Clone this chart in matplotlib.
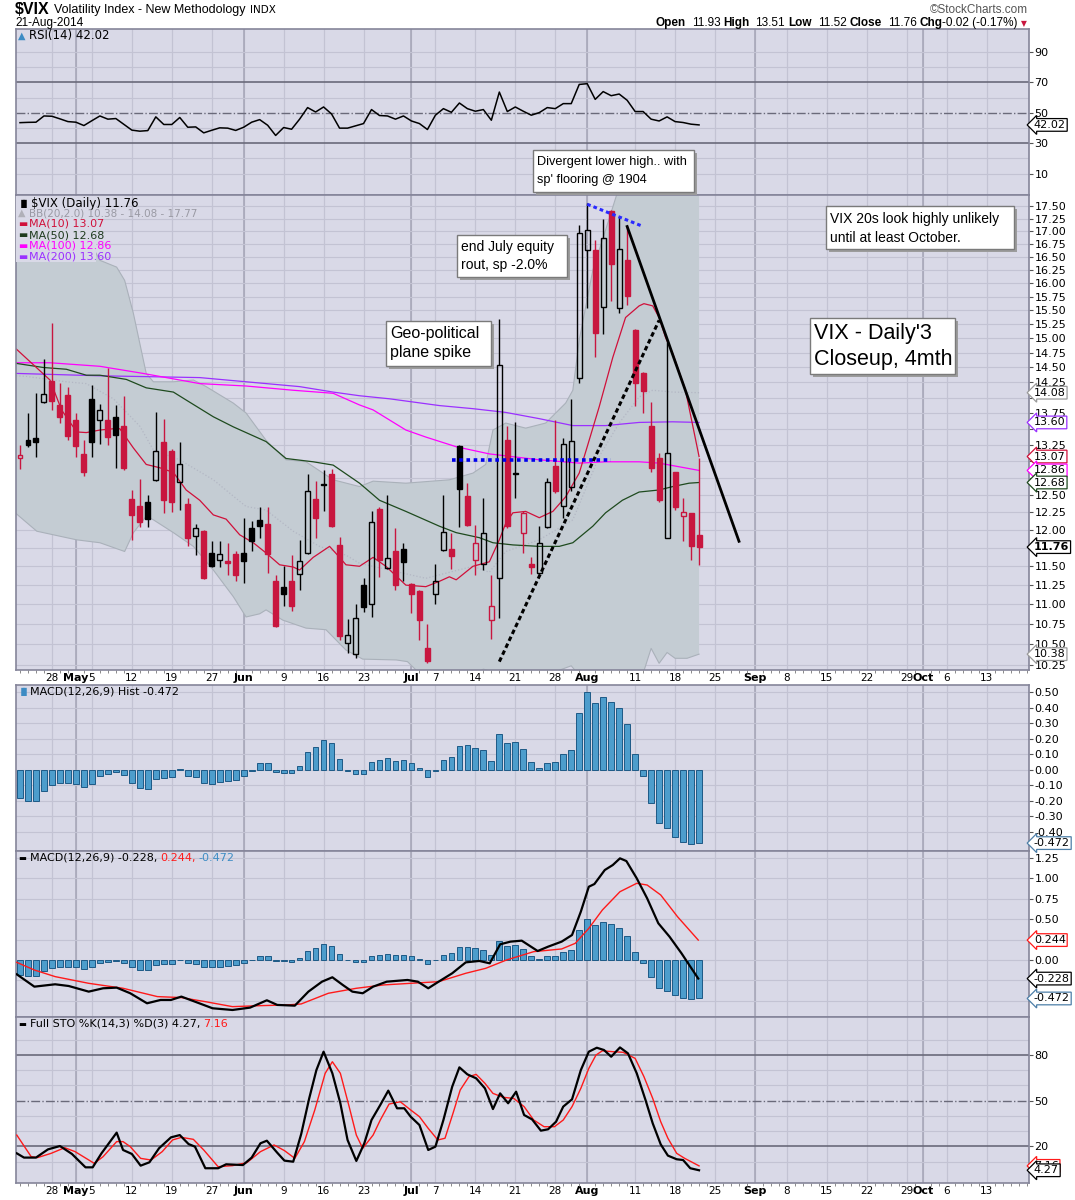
import matplotlib
matplotlib.use('Agg')
import matplotlib.pyplot as plt
from matplotlib.patches import Rectangle
from matplotlib.ticker import FixedLocator, NullLocator, FixedFormatter
import numpy as np
import pandas as pd

plt.rcParams['font.family'] = ['DejaVu Sans']

# dias de mercado que ocupa el eje (sin festivos)
dias = pd.bdate_range('2014-04-22', '2014-10-24')
dias = dias[~dias.isin(pd.to_datetime(['2014-05-26', '2014-07-04', '2014-09-01']))]

# velas diarias $VIX, 22-abr a 21-ago-2014
apertura = [13.05, 13.33, 13.35, 13.92, 14.27, 13.88, 14.05, 13.64, 13.11, 13.98,
            13.64, 13.64, 13.69, 13.54, 12.44, 12.34, 12.40, 12.71, 13.30, 13.15,
            12.69, 12.36, 11.92, 11.98, 11.68, 11.58, 11.57, 11.66, 11.68, 12.02,
            12.14, 12.08, 11.31, 11.23, 11.30, 11.40, 11.68, 12.44, 12.66, 12.81,
            11.79, 10.51, 10.38, 11.25, 11.00, 12.29, 11.48, 11.71, 11.74, 11.27,
            11.17, 10.45, 11.14, 11.72, 11.74, 13.23, 12.48, 11.58, 11.53, 10.80,
            11.35, 13.33, 12.82, 11.96, 11.53, 11.41, 12.04, 12.93, 12.34, 12.62,
            14.33, 16.63, 16.63, 15.56, 17.40, 15.54, 16.43, 15.14, 14.41, 13.55,
            13.05, 11.89, 12.83, 12.20, 12.23, 11.93]
maximo = [13.24, 13.75, 14.07, 14.65, 15.27, 14.24, 14.18, 13.75, 13.32, 14.21,
          13.90, 14.49, 13.88, 14.03, 12.57, 12.73, 12.49, 13.76, 13.65, 13.18,
          13.29, 12.45, 12.08, 11.99, 11.84, 11.84, 11.82, 11.71, 12.17, 12.13,
          12.32, 12.33, 11.39, 11.50, 11.65, 11.86, 12.81, 12.70, 12.87, 12.88,
          11.90, 10.81, 11.01, 11.35, 12.27, 12.33, 12.50, 12.02, 11.82, 11.28,
          11.18, 10.75, 11.53, 12.50, 11.96, 13.24, 12.68, 12.07, 12.46, 11.38,
          15.35, 13.54, 13.61, 12.26, 11.63, 12.05, 12.75, 13.64, 13.35, 13.98,
          17.12, 17.57, 16.83, 17.25, 17.42, 17.28, 17.10, 15.16, 14.42, 13.93,
          13.12, 14.93, 12.84, 12.45, 12.24, 13.05]
minimo = [12.88, 13.22, 13.07, 13.91, 13.80, 13.59, 13.32, 13.06, 12.77, 13.07,
          13.27, 13.25, 12.90, 12.86, 11.86, 12.04, 12.04, 12.70, 12.24, 12.25,
          12.28, 11.78, 11.65, 11.33, 11.49, 11.49, 11.39, 11.30, 11.28, 11.71,
          11.89, 11.41, 10.71, 10.98, 10.92, 11.18, 11.66, 11.88, 12.27, 12.04,
          10.55, 10.39, 10.33, 10.90, 10.84, 11.36, 11.47, 11.18, 11.30, 10.89,
          10.55, 10.27, 11.00, 11.71, 11.47, 12.04, 12.06, 11.38, 11.45, 10.57,
          10.83, 12.03, 12.45, 11.68, 11.40, 11.40, 12.03, 12.53, 12.17, 12.55,
          14.24, 15.54, 14.67, 15.07, 15.67, 15.45, 15.60, 13.86, 13.75, 12.83,
          12.40, 11.88, 12.28, 11.84, 11.58, 11.52]
cierre = [13.10, 13.24, 13.29, 14.06, 13.95, 13.69, 13.39, 13.23, 12.84, 13.29,
          13.80, 13.37, 13.40, 12.90, 12.21, 12.11, 12.15, 13.16, 12.42, 12.40,
          12.96, 11.89, 12.02, 11.34, 11.50, 11.66, 11.55, 11.38, 11.57, 11.85,
          12.06, 11.66, 10.73, 11.14, 10.98, 11.57, 12.55, 12.16, 12.64, 12.05,
          10.60, 10.62, 10.83, 10.97, 12.11, 11.58, 11.61, 11.25, 11.56, 11.14,
          10.80, 10.30, 11.31, 11.97, 11.64, 12.58, 12.07, 11.82, 11.96, 10.98,
          14.54, 12.06, 12.80, 12.23, 11.49, 11.82, 12.69, 12.55, 13.27, 13.31,
          16.96, 17.03, 15.10, 16.86, 16.35, 16.65, 15.76, 14.24, 14.10, 12.89,
          12.42, 13.12, 12.33, 12.25, 11.78, 11.76]
cierre_previo = 13.25

# medias moviles y bandas (dia, valor)
ma10_x = [-0.5, 3.75, 5.2, 7.1, 8.3, 10, 11.7, 12.5, 14.2, 15.8, 17.5, 19.2, 20.8, 22.5,
          24.2, 25.8, 27.5, 29.2, 30.8, 32.5, 34.2, 35, 36.7, 38.75, 40, 40.8, 42.5,
          44.2, 45.8, 48.3, 50.8, 52.5, 53.75, 54.6, 56.7, 58.75, 60, 60.8, 61.7, 63.3,
          65, 66.7, 68.3, 70, 71, 72.5, 74.2, 75.8, 77.5, 78.1, 79.2, 80, 80.8, 81.7,
          83.3, 85]
ma10_y = [14.82, 14.29, 13.80, 13.45, 13.44, 13.48, 13.50, 13.50, 13.20, 12.95, 12.90,
          12.83, 12.57, 12.42, 12.21, 12.15, 11.93, 11.82, 11.68, 11.52, 11.49, 11.45,
          11.62, 11.77, 11.62, 11.52, 11.50, 11.62, 11.50, 11.25, 11.23, 11.30, 11.36,
          11.32, 11.50, 11.56, 11.86, 12.09, 12.24, 12.26, 12.17, 12.26, 12.47, 12.82,
          13.22, 13.85, 14.67, 15.37, 15.58, 15.62, 15.58, 15.37, 15.02, 14.74, 14.12,
          13.07]
ma50_x = [-0.5, 2.9, 5.8, 8.3, 10, 13.3, 15.8, 19.2, 20.8, 24.2, 26.7, 30.8, 33.3, 36.7,
          39.2, 42.5, 45, 48.3, 52.5, 54.6, 57.5, 59.2, 61.7, 65, 67.5, 69.2, 71.7, 73.3,
          75.4, 77.5, 80, 81.7, 83.75, 85]
ma50_y = [14.57, 14.50, 14.47, 14.37, 14.37, 14.30, 14.16, 14.09, 13.96, 13.69, 13.53,
          13.30, 13.04, 12.99, 12.94, 12.67, 12.42, 12.26, 12.05, 11.96, 11.89, 11.82,
          11.79, 11.77, 11.77, 11.82, 12.05, 12.24, 12.42, 12.54, 12.57, 12.62, 12.67,
          12.68]
ma100_x = [-0.5, 3.75, 10, 15.4, 22.5, 28.3, 34.2, 39.2, 42.5, 44.2, 48.3, 50.8, 54.6,
           58.75, 65, 70, 73.3, 77.5, 80, 85]
ma100_y = [14.58, 14.58, 14.52, 14.40, 14.23, 14.19, 14.12, 14.07, 13.88, 13.80, 13.48,
           13.37, 13.22, 13.11, 13.02, 12.97, 12.99, 12.99, 12.97, 12.86]
ma200_x = [-0.5, 10, 22.5, 35, 39.2, 42.5, 46.25, 52.5, 56.7, 60.8, 65, 69.2, 73.3, 77.5,
           81.7, 85]
ma200_y = [14.40, 14.36, 14.33, 14.18, 14.09, 14.03, 13.98, 13.87, 13.82, 13.76, 13.66,
           13.55, 13.55, 13.60, 13.61, 13.60]
bb_sup_x = [-0.5, 9.4, 10, 12.1, 13.1, 14.2, 15.8, 16.7, 19.2, 21.7, 23.3, 26.7, 28.3,
            30.8, 33.3, 35.8, 39.2, 42.5, 44.2, 48.3, 53.75, 56.7, 58.3, 59.2, 60.8, 63.3,
            65.8, 68.3, 69.2, 70, 71.7, 73.3, 75, 78, 82, 85]
bb_sup_y = [16.5, 16.6, 16.43, 16.30, 16.05, 15.44, 14.40, 14.26, 14.26, 14.29, 14.18,
            13.91, 13.75, 13.32, 13.02, 12.99, 12.72, 12.62, 12.70, 12.67, 12.72, 12.82,
            12.95, 13.48, 13.59, 13.51, 13.59, 13.91, 14.12, 14.97, 16.24, 17.02, 17.9,
            18.3, 18.2, 17.77]
bb_inf_x = [-0.5, 2.1, 5, 7.1, 10, 13.1, 14.2, 15.8, 16.7, 19.2, 21.7, 24.2, 26.7, 28.3,
            30, 30.8, 32.9, 35.8, 38.3, 40.8, 42.9, 47.1, 48.5, 50, 53, 56, 58, 60, 65,
            69, 72, 76, 78, 79, 80, 81, 82, 83.5, 85]
bb_inf_y = [12.23, 11.98, 11.91, 11.86, 11.82, 11.70, 11.96, 12.19, 12.14, 11.96, 11.77,
            11.45, 11.10, 10.84, 10.88, 10.93, 10.80, 10.70, 10.68, 10.43, 10.32, 10.31,
            10.29, 10.15, 10.05, 10.10, 10.20, 10.15, 10.10, 10.24, 9.9, 9.9, 10.15,
            10.45, 10.27, 10.40, 10.33, 10.33, 10.38]
bb_med_x = [-0.5, 0.8, 5.8, 8.3, 11.7, 15, 16.7, 20, 24.2, 28.3, 30.8, 34.2, 37.5, 40.8,
            42.5, 50.8, 56.7, 58.75, 60.8, 65, 69.2, 72.5, 75, 77.5, 79.2, 81.7, 85]
bb_med_y = [14.36, 14.35, 14.26, 14.23, 13.98, 13.54, 13.17, 13.02, 12.72, 12.33, 12.28,
            11.98, 11.77, 11.65, 11.54, 11.34, 11.50, 11.42, 11.70, 11.86, 12.14, 13.07,
            13.59, 14.01, 14.12, 14.09, 14.08]

rsi = [43.5, 43.7, 43.8, 47.9, 47.7, 46.0, 44.2, 43.8, 41.6, 44.8,
       47.9, 45.8, 46.2, 42.4, 38.6, 37.9, 38.3, 47.3, 42.3, 42.3,
       46.9, 40.5, 40.7, 36.8, 38.5, 40.1, 39.9, 38.4, 40.5, 43.8,
       45.5, 41.8, 35.1, 40.3, 39.2, 45.8, 53.4, 50.5, 53.8, 49.2,
       39.9, 39.9, 41.4, 42.9, 52.1, 48.2, 47.9, 45.8, 47.9, 44.6,
       42.9, 39.0, 48.4, 52.7, 50.3, 56.4, 52.7, 51.0, 52.1, 45.1,
       63.6, 50.8, 53.8, 51.0, 48.4, 50.1, 53.4, 52.7, 56.0, 56.0,
       68.6, 69.1, 58.8, 63.9, 61.2, 62.3, 58.2, 50.8, 50.8, 45.8,
       44.6, 47.3, 44.2, 43.6, 42.5, 42.02]

hist = [-0.183, -0.20, -0.20, -0.135, -0.097, -0.086, -0.086, -0.09, -0.112, -0.09,
        -0.039, -0.026, -0.015, -0.034, -0.086, -0.118, -0.125, -0.056, -0.054, -0.047,
        0.003, -0.037, -0.047, -0.086, -0.092, -0.080, -0.069, -0.065, -0.039, -0.004,
        0.045, 0.045, -0.011, -0.017, -0.021, 0.026, 0.116, 0.146, 0.194, 0.172,
        0.069, -0.004, -0.028, -0.028, 0.052, 0.065, 0.075, 0.058, 0.065, 0.043,
        0.011, -0.047, -0.006, 0.065, 0.082, 0.155, 0.159, 0.144, 0.127, 0.058,
        0.230, 0.174, 0.181, 0.133, 0.049, 0.011, 0.047, 0.052, 0.101, 0.127,
        0.366, 0.501, 0.430, 0.471, 0.439, 0.398, 0.297, 0.101, -0.037, -0.211,
        -0.344, -0.376, -0.432, -0.462, -0.477, -0.472]

macd_x = [-0.4, 1.8, 4.4, 6.1, 8.6, 10.4, 12.1, 13.8, 15.9, 17.6, 18.9, 20.2, 21.9, 24.1,
          26.6, 28.8, 30.9, 32.2, 34.4, 36.1, 37.8, 39.1, 40.4, 41.6, 42.9, 44.2, 45.9,
          48.5, 49.8, 51.1, 52.4, 54.1, 55.8, 57.5, 58.8, 60.1, 61.4, 62.8, 64.8, 66.1,
          67.8, 69.1, 70.2, 71.2, 71.9, 73.2, 74.2, 75.1, 75.9, 77.2, 78.5, 79.9, 81.3,
          82.8, 84.9]
macd_y = [-0.176, -0.327, -0.298, -0.319, -0.388, -0.347, -0.339, -0.408, -0.531, -0.490,
          -0.490, -0.449, -0.511, -0.592, -0.613, -0.584, -0.494, -0.551, -0.560, -0.388,
          -0.266, -0.212, -0.306, -0.388, -0.408, -0.327, -0.266, -0.245, -0.266, -0.347,
          -0.266, -0.163, -0.029, -0.012, -0.041, 0.192, 0.225, 0.237, 0.110, 0.163,
          0.225, 0.306, 0.592, 0.898, 0.931, 1.103, 1.164, 1.246, 1.213, 1.001, 0.756,
          0.450, 0.286, 0.082, -0.228]
senal_x = [-0.4, 1.8, 4.4, 8.6, 12.9, 17.2, 20.2, 23.2, 26.6, 30.1, 33.5, 35.2, 38.6, 42.1,
           45.5, 48.9, 52.4, 55.8, 58.3, 60.9, 64.3, 67.8, 69.5, 71.2, 72.9, 75.1, 77.2,
           78.5, 80.2, 82.3, 84.9]
senal_y = [-0.029, -0.123, -0.204, -0.286, -0.347, -0.449, -0.461, -0.511, -0.572, -0.560,
           -0.551, -0.539, -0.408, -0.347, -0.306, -0.286, -0.266, -0.163, -0.102, 0.0,
           0.102, 0.135, 0.204, 0.388, 0.613, 0.837, 0.940, 0.919, 0.797, 0.531, 0.244]

sto_k_x = [-0.4, 0.5, 2.0, 3.5, 5.0, 6.5, 8.2, 9.1, 10.2, 12.1, 12.9, 14.0, 15.1, 16.2,
           17.4, 18.9, 20.0, 21.1, 21.9, 23.2, 24.8, 25.8, 27.9, 29.0, 30.1, 30.9, 32.2,
           33.1, 34.2, 35.2, 36.2, 37.1, 38.0, 39.1, 40.1, 41.0, 42.1, 43.1, 44.0, 45.1,
           46.1, 47.2, 48.1, 48.9, 50.0, 51.1, 52.0, 53.0, 54.1, 55.0, 56.0, 57.1, 58.2,
           59.2, 60.1, 61.1, 62.1, 63.1, 64.1, 65.2, 66.1, 67.1, 68.0, 69.1, 70.2, 71.2,
           72.2, 73.1, 74.0, 75.1, 76.1, 77.2, 78.3, 79.2, 80.2, 81.1, 82.2, 83.0, 83.9,
           85.0]
sto_k_y = [15.4, 12.6, 12.6, 18.0, 20.2, 15.0, 6.2, 6.2, 15.4, 29.0, 17.6, 15.0, 7.3, 9.5,
           18.7, 25.9, 27.4, 21.5, 19.8, 5.6, 5.6, 8.2, 7.7, 12.6, 22.0, 23.7, 15.8, 10.6,
           9.9, 28.1, 51.5, 70.1, 82.2, 68.0, 48.3, 24.2, 10.4, 22.0, 37.3, 47.2, 56.6,
           45.0, 45.0, 39.5, 34.0, 17.6, 19.8, 37.3, 59.2, 71.9, 67.3, 64.7, 58.1, 44.5,
           54.8, 48.3, 55.9, 40.6, 37.7, 30.3, 31.2, 36.2, 46.1, 50.9, 70.1, 82.2, 84.8,
           83.3, 78.9, 85.0, 81.1, 68.0, 50.4, 35.1, 21.3, 13.9, 11.5, 11.0, 5.6, 4.27]
sto_d_x = [-0.4, 1.4, 2.2, 3.9, 5.6, 6.9, 9.3, 10.4, 12.1, 12.9, 13.8, 15.1, 16.4, 17.8,
           19.1, 20.2, 21.7, 23.0, 24.8, 26.6, 28.4, 30.1, 31.8, 33.1, 34.4, 35.6, 36.9,
           38.2, 39.1, 40.1, 41.2, 42.1, 42.9, 44.2, 45.1, 46.2, 47.6, 48.9, 50.0, 51.1,
           52.3, 53.2, 54.2, 55.1, 56.2, 57.1, 58.2, 59.2, 60.5, 61.8, 63.1, 64.3, 65.6,
           66.9, 68.0, 69.1, 70.2, 71.2, 72.1, 72.9, 74.2, 75.5, 77.0, 78.1, 79.2, 80.2,
           81.1, 82.2, 83.2, 85.0]
sto_d_y = [27.4, 13.2, 12.6, 15.4, 19.1, 16.5, 8.8, 13.2, 23.1, 23.1, 19.8, 12.1, 11.0,
           16.5, 24.2, 25.9, 24.6, 17.6, 6.6, 7.3, 9.3, 16.5, 20.9, 17.2, 12.1, 23.1, 43.9,
           68.0, 75.6, 68.0, 46.1, 27.4, 18.7, 27.4, 37.3, 47.8, 49.3, 43.9, 39.5, 31.8,
           24.2, 25.3, 41.7, 57.0, 65.8, 67.3, 61.4, 54.8, 52.2, 51.5, 46.1, 37.3, 32.9,
           32.9, 37.3, 46.1, 58.1, 71.2, 80.0, 82.8, 82.2, 81.8, 77.8, 65.8, 51.5, 36.2,
           25.3, 15.4, 12.1, 7.16]

# etiquetas del eje x
eje_fechas = ['2014-04-28', '2014-05-01', '2014-05-05', '2014-05-12', '2014-05-19',
              '2014-05-27', '2014-06-02', '2014-06-09', '2014-06-16', '2014-06-23',
              '2014-07-01', '2014-07-07', '2014-07-14', '2014-07-21', '2014-07-28',
              '2014-08-01', '2014-08-11', '2014-08-18', '2014-08-25', '2014-09-02',
              '2014-09-08', '2014-09-15', '2014-09-22', '2014-09-29', '2014-10-01',
              '2014-10-06', '2014-10-13']
eje_txt = ['28', 'May', '5', '12', '19', '27', 'Jun', '9', '16', '23', 'Jul', '7', '14',
           '21', '28', 'Aug', '11', '18', '25', 'Sep', '8', '15', '22', '29', 'Oct', '6', '13']
meses = ['May', 'Jun', 'Jul', 'Aug', 'Sep', 'Oct']

W, H = 1075, 1200
BG = '#d9d9e7'
ROJO = '#c8163f'
ARIAL = 'Liberation Sans'

pos = [dias.get_loc(pd.Timestamp(f)) for f in eje_fechas]
pos_mes = [p for p, t in zip(pos, eje_txt) if t in meses]

fig = plt.figure(figsize=(W / 100, H / 100), dpi=100)
fig.patch.set_facecolor('white')


def panel(top, bottom):
    a = fig.add_axes([16 / W, 1 - bottom / H, (1029 - 16) / W, (bottom - top) / H])
    a.set_facecolor(BG)
    a.set_xlim(-0.5, 126.3)
    for s in a.spines.values():
        s.set_color('#85859a')
        s.set_linewidth(1.2)
    a.yaxis.tick_right()
    a.tick_params(axis='y', length=3, width=0.8, color='#555', labelsize=8, pad=1)
    a.set_xticks(pos)
    a.set_xticks(range(0, 127), minor=True)
    a.tick_params(axis='x', which='major', length=0, labelsize=7.5, pad=2)
    a.tick_params(axis='x', which='minor', length=2, color='#777', direction='out')
    a.set_xticklabels([])
    for p in pos:
        a.axvline(p, color='#c3c3d3', lw=0.9, zorder=0)
    for p in pos_mes:
        a.axvline(p, color='#a4a4b6', lw=1.1, zorder=0)
    return a


def rejilla(a, valores):
    for v in valores:
        a.axhline(v, color='#c3c3d3', lw=0.8, zorder=0)


def marcas_y(a, valores, ocultas=()):
    a.yaxis.set_major_locator(FixedLocator(valores))
    a.yaxis.set_minor_locator(NullLocator())
    txt = ['' if v in ocultas else ('%.2f' % v if abs(v) > 1e-9 else '0.00') for v in valores]
    a.yaxis.set_major_formatter(FixedFormatter(txt))


def etiquetas_x(a):
    a.set_xticklabels(eje_txt)
    for t in a.get_xticklabels():
        if t.get_text() in meses:
            t.set_fontweight('bold')
            t.set_fontsize(8)


def caja_valor(a, val, txt, ec, bold=False):
    a.annotate(txt, xy=(1, val), xycoords=a.get_yaxis_transform(), xytext=(3.5, 0),
               textcoords='offset points', va='center', ha='left', fontsize=8,
               fontweight='bold' if bold else 'normal', annotation_clip=False, zorder=20,
               bbox=dict(boxstyle='larrow,pad=0.12', fc='white', ec=ec, lw=0.9))


# ---- RSI ----
ax_r = panel(29, 195)
ax_r.set_ylim(-4, 105)
rejilla(ax_r, [10, 20, 40, 60, 80, 90])
ax_r.axhline(70, color='#6a6a7a', lw=1.2)
ax_r.axhline(30, color='#6a6a7a', lw=1.2)
ax_r.axhline(50, color='#6a6a7a', lw=1.0, ls='-.')
ax_r.plot(range(len(rsi)), rsi, color='black', lw=1.1)
ax_r.set_yticks([10, 30, 50, 70, 90])
caja_valor(ax_r, rsi[-1], '42.02', 'black')

# ---- precio ----
ax = panel(195, 670)
ax.set_yscale('log')
ax.set_ylim(10.19, 17.73)
ticks = [round(10.25 + 0.25 * k, 2) for k in range(30)]
marcas_y(ax, ticks, ocultas=(14.0, 13.5, 13.0, 12.75, 11.75))
rejilla(ax, ticks)
etiquetas_x(ax)

poli_x = bb_sup_x + bb_inf_x[::-1]
poli_y = bb_sup_y + bb_inf_y[::-1]
ax.fill(poli_x, poli_y, facecolor='#c4ccd3', edgecolor='none', zorder=1)
ax.plot(bb_sup_x, bb_sup_y, color='#aab1ba', lw=0.8, zorder=1)
ax.plot(bb_inf_x, bb_inf_y, color='#aab1ba', lw=0.8, zorder=1)
ax.plot(bb_med_x, bb_med_y, color='#b3b7c4', lw=0.9, ls=':', zorder=1)

ax.plot(ma200_x, ma200_y, color='#9b30ff', lw=0.9, zorder=2)
ax.plot(ma100_x, ma100_y, color='#ff00ff', lw=0.9, zorder=2)
ax.plot(ma50_x, ma50_y, color='#1e4a1e', lw=0.9, zorder=2)
ax.plot(ma10_x, ma10_y, color='#d0103a', lw=0.9, zorder=2)

o, h, l, c = map(np.array, (apertura, maximo, minimo, cierre))
x = np.arange(len(c))
prev = np.concatenate([[cierre_previo], c[:-1]])
col = np.where(c >= prev, 'black', ROJO)
top = np.maximum(o, c)
bot = np.minimum(o, c)
ax.vlines(x, l, bot, colors=col, lw=1.0, zorder=3)
ax.vlines(x, top, h, colors=col, lw=1.0, zorder=3)
for i in range(len(c)):
    hueco = c[i] > o[i]
    alto = max(top[i] - bot[i], 0.015)
    ax.bar(x[i], alto, bottom=bot[i], width=0.62, zorder=4,
           facecolor='none' if hueco else col[i], edgecolor=col[i], lw=1.0)

# lineas dibujadas a mano
ax.plot([54.1, 74.0], [13.02, 13.02], color='#0000ee', lw=2.6, ls=(0, (1, 1)), zorder=5)
ax.plot([71.0, 77.7], [17.54, 17.11], color='#2a2aff', lw=2.2, ls=(0, (1.2, 1)), zorder=5)
ax.plot([60.0, 80.0], [10.29, 15.32], color='black', lw=2.2, ls=(0, (1.5, 1)), zorder=5)
ax.plot([76.0, 90.0], [17.09, 11.84], color='black', lw=2.0, zorder=5)

ax.add_patch(Rectangle((16 / W, 1 - 262 / H), 80 / W, 66 / H, transform=fig.transFigure,
                       facecolor=BG, edgecolor='none', zorder=6))

caja_valor(ax, 14.08, '14.08', '#9a9a9a')
caja_valor(ax, 13.60, '13.60', '#9b30ff')
caja_valor(ax, 13.07, '13.07', '#d0103a')
caja_valor(ax, 12.86, '12.86', '#ff00ff')
caja_valor(ax, 12.68, '12.68', '#1e4a1e')
caja_valor(ax, 11.76, '11.76', 'black', bold=True)
caja_valor(ax, 10.38, '10.38', '#9a9a9a')

# ---- MACD histograma ----
ax_h = panel(685, 851)
ax_h.set_ylim(-0.523, 0.548)
htk = [-0.4, -0.3, -0.2, -0.1, 0.0, 0.1, 0.2, 0.3, 0.4, 0.5]
rejilla(ax_h, htk)
marcas_y(ax_h, htk)
ax_h.bar(range(len(hist)), hist, width=0.72, facecolor='#4d9dcc', edgecolor='#1d5a86', lw=0.7, zorder=3)
caja_valor(ax_h, -0.472, '-0.472', '#4d7fa8')

# ---- MACD ----
ax_m = panel(851, 1017)
ax_m.set_ylim(-0.699, 1.336)
mtk = [-0.5, -0.25, 0.0, 0.25, 0.5, 0.75, 1.0, 1.25]
rejilla(ax_m, mtk)
marcas_y(ax_m, mtk, ocultas=(-0.5, -0.25, 0.25))
ax_m.bar(range(len(hist)), hist, width=0.72, facecolor='#4d9dcc', edgecolor='#1d5a86', lw=0.7, zorder=3)
ax_m.plot(senal_x, senal_y, color='#ff1a1a', lw=1.0, zorder=4)
ax_m.plot(macd_x, macd_y, color='black', lw=1.6, zorder=5)
caja_valor(ax_m, 0.244, '0.244', '#ff1a1a')
caja_valor(ax_m, -0.228, '-0.228', 'black')
caja_valor(ax_m, -0.472, '-0.472', '#4d7fa8')

# ---- Full STO ----
ax_s = panel(1017, 1183)
ax_s.set_ylim(-4.1, 105)
rejilla(ax_s, [10, 30, 40, 60, 70, 90])
ax_s.axhline(80, color='#6a6a7a', lw=1.2)
ax_s.axhline(20, color='#6a6a7a', lw=1.2)
ax_s.axhline(50, color='#6a6a7a', lw=1.0, ls='-.')
ax_s.set_yticks([20, 50, 80])
ax_s.plot(sto_d_x, sto_d_y, color='#ff1a1a', lw=1.0, zorder=4)
ax_s.plot(sto_k_x, sto_k_y, color='black', lw=1.6, zorder=5)
etiquetas_x(ax_s)
caja_valor(ax_s, 7.16, '7.16', '#ff1a1a')
caja_valor(ax_s, 4.27, '4.27', 'black')

# ---- textos ----
fig.canvas.draw()
rend = fig.canvas.get_renderer()


def ftxt(px, py, s, **kw):
    kw.setdefault('va', 'center')
    kw.setdefault('fontsize', 8)
    return fig.text(px / W, 1 - py / H, s, **kw)


def fila(px, py, piezas, derecha=False):
    # coloca trozos de texto uno tras otro (o de derecha a izquierda)
    seq = piezas[::-1] if derecha else piezas
    xx = px
    for s, gap, kw in seq:
        t = ftxt(xx, py, s, ha='right' if derecha else 'left', **kw)
        bb = t.get_window_extent(rend)
        xx = (bb.x0 - gap) if derecha else (bb.x1 + gap)


fila(15, 10, [(r'\$VIX', 4, dict(fontsize=11.5, fontweight='bold', family=ARIAL)),
              ('Volatility Index - New Methodology', 5, dict(fontsize=9, family=ARIAL)),
              ('INDX', 0, dict(fontsize=7.5, family='DejaVu Sans'))])
ftxt(15, 23, '21-Aug-2014', fontsize=8.5, family=ARIAL)
ftxt(1028, 10, '\u00a9StockCharts.com', fontsize=8.5, ha='right', color='#555', family=ARIAL)
nb = dict(fontsize=8.5, family=ARIAL, fontweight='bold')
nn = dict(fontsize=8.5, family=ARIAL)
fila(1018, 23, [('Open', 3, nb), ('11.93', 6, nn), ('High', 3, nb), ('13.51', 6, nn),
                ('Low', 3, nb), ('11.52', 6, nn), ('Close', 3, nb), ('11.76', 6, nn),
                ('Chg', 3, nb), ('-0.02 (-0.17%)', 0, nn)], derecha=True)
ftxt(1021, 24, '\u25bc', fontsize=5.5, color=ROJO)

# leyendas de los paneles
ftxt(18, 36, '\u25b2', fontsize=7, color='#3d8cc4')
ftxt(29, 36, 'RSI(14) 42.02', fontsize=8.5)
ftxt(18, 203, '\u2590\u258c', fontsize=6, color='black')
ftxt(31, 203, r'\$VIX (Daily) 11.76', fontsize=8.5)
ftxt(18, 213, '\u25b2', fontsize=7, color='#b0b0b8')
ftxt(29, 213, 'BB(20,2.0) 10.38 - 14.08 - 17.77', fontsize=7.5, color='#9a9aa4')
for py, s, cc in [(224, 'MA(10) 13.07', '#d0103a'), (235, 'MA(50) 12.68', '#1e3a1e'),
                  (246, 'MA(100) 12.86', '#ff00ff'), (257, 'MA(200) 13.60', '#9b30ff')]:
    ftxt(18, py, '\u25ac', fontsize=7, color=cc)
    ftxt(29, py, s, fontsize=8, color=cc)
ftxt(18, 692, '\u2590\u258c', fontsize=6, color='#3d8cc4')
ftxt(30, 692, 'MACD(12,26,9) Hist -0.472', fontsize=8)
ftxt(18, 858, '\u25ac', fontsize=6, color='black')
fila(30, 858, [('MACD(12,26,9) -0.228,', 3, {}), ('0.244,', 3, dict(color='#ff1a1a')),
               ('-0.472', 0, dict(color='#3d8cc4'))])
ftxt(18, 1024, '\u25ac', fontsize=6, color='black')
fila(30, 1024, [('Full STO %K(14,3) %D(3) 4.27,', 3, {}), ('7.16', 0, dict(color='#ff1a1a'))])


# cajas de comentario
def caja(x0, y0, x1, y1, lineas, size):
    fig.add_artist(Rectangle(((x0 + 3) / W, 1 - (y1 + 3) / H), (x1 - x0) / W, (y1 - y0) / H,
                             transform=fig.transFigure, facecolor='#9c9c9c',
                             edgecolor='none', zorder=8))
    fig.add_artist(Rectangle((x0 / W, 1 - y1 / H), (x1 - x0) / W, (y1 - y0) / H,
                             transform=fig.transFigure, facecolor='white',
                             edgecolor='#7a7a7a', lw=1.0, zorder=9))
    for py, s in lineas:
        ftxt(x0 + 4, py, s, fontsize=size, family=ARIAL, zorder=10)


caja(533, 150, 694, 192, [(162, 'Divergent lower high.. with'), (180, "sp' flooring @ 1904")], 9.2)
caja(457, 235, 567, 277, [(247, 'end July equity'), (265, 'rout, sp -2.0%')], 10)
caja(386, 321, 491, 366, [(333, 'Geo-political'), (353, 'plane spike')], 11.5)
caja(826, 206, 1014, 249, [(219, 'VIX 20s look highly unlikely'), (238, 'until at least October.')], 10)
caja(810, 318, 955, 374, [(334, "VIX - Daily'3"), (359, 'Closeup, 4mth')], 15.5)

fig.savefig('out.png', dpi=100)
